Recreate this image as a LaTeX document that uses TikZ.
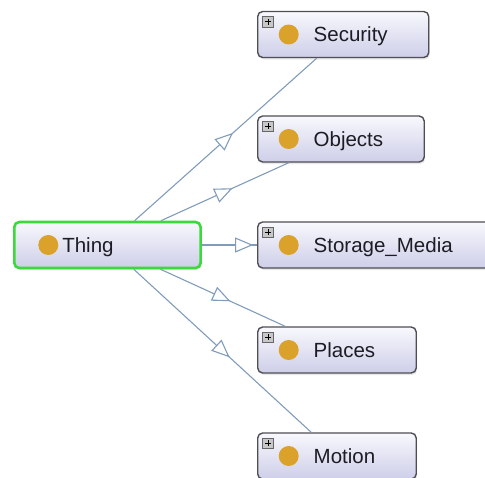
\documentclass[tikz,border=0pt]{standalone}
\usepackage{fontspec}
\setmainfont{Liberation Sans}
\usetikzlibrary{arrows.meta,decorations.markings,shadows}

\definecolor{edgeblue}{RGB}{128,156,186}
\definecolor{boxline}{RGB}{78,78,84}
\definecolor{boxtop}{RGB}{248,248,253}
\definecolor{boxbot}{RGB}{206,206,233}
\definecolor{ball}{RGB}{218,162,42}
\definecolor{selgreen}{RGB}{58,218,58}
\definecolor{ink}{RGB}{28,28,36}

\tikzset{
  box/.style={rounded corners=5pt, top color=boxtop, bottom color=boxbot,
    minimum height=46pt, inner sep=0pt, text height=14.7pt, text depth=0pt,
    anchor=west, text=ink, font=\fontsize{20.5pt}{24pt}\selectfont,
    drop shadow={shadow xshift=1pt, shadow yshift=-2pt, opacity=.18}},
  cls/.style={box, draw=boxline, line width=1.4pt,
    execute at begin node=\hspace*{56pt}, execute at end node=\hspace*{41pt},
    path picture={
      \fill[ball] ([xshift=31pt]path picture bounding box.west) circle (10pt);
      \draw[sharp corners, fill=black!22, draw=black!60, line width=.7pt]
        ([xshift=5pt,yshift=-5pt]path picture bounding box.north west) rectangle ++(11pt,-10.5pt);
      \draw[sharp corners, line width=1.3pt, black]
        ([xshift=7.3pt,yshift=-10.2pt]path picture bounding box.north west) -- ++(6.4pt,0pt)
        ([xshift=10.5pt,yshift=-7pt]path picture bounding box.north west) -- ++(0pt,-6.4pt);
    }},
  root/.style={box, draw=selgreen, line width=2.6pt,
    execute at begin node=\hspace*{48pt}, execute at end node=\hspace*{87pt},
    path picture={
      \fill[ball] ([xshift=34pt]path picture bounding box.west) circle (10pt);
    }},
  isa/.style={draw=edgeblue, line width=1.1pt,
    decoration={markings,
      mark=at position #1 with {\arrow{Triangle[fill=white, length=18pt, width=15pt]}}},
    postaction=decorate},
}

\begin{document}
\begin{tikzpicture}[x=1pt,y=-1pt]
\useasboundingbox (0,0) rectangle (485,477);
\clip (0,0) rectangle (485,477);
\node[root] (thing) at (13,245) {Thing};
\node[cls] (sec) at (257,34.5) {Security};
\node[cls] (obj) at (257,139) {Objects};
\node[cls] (stor) at (257,245) {Storage\_Media};
\node[cls] (plc) at (257,350) {Places};
\node[cls] (mot) at (257,456) {Motion};
\draw[isa=.54] (thing) -- (sec);
\draw[isa=.56] (thing) -- (obj);
\draw[isa=.93] (thing) -- (stor);
\draw[isa=.56] (thing) -- (plc);
\draw[isa=.54] (thing) -- (mot);
\end{tikzpicture}
\end{document}
